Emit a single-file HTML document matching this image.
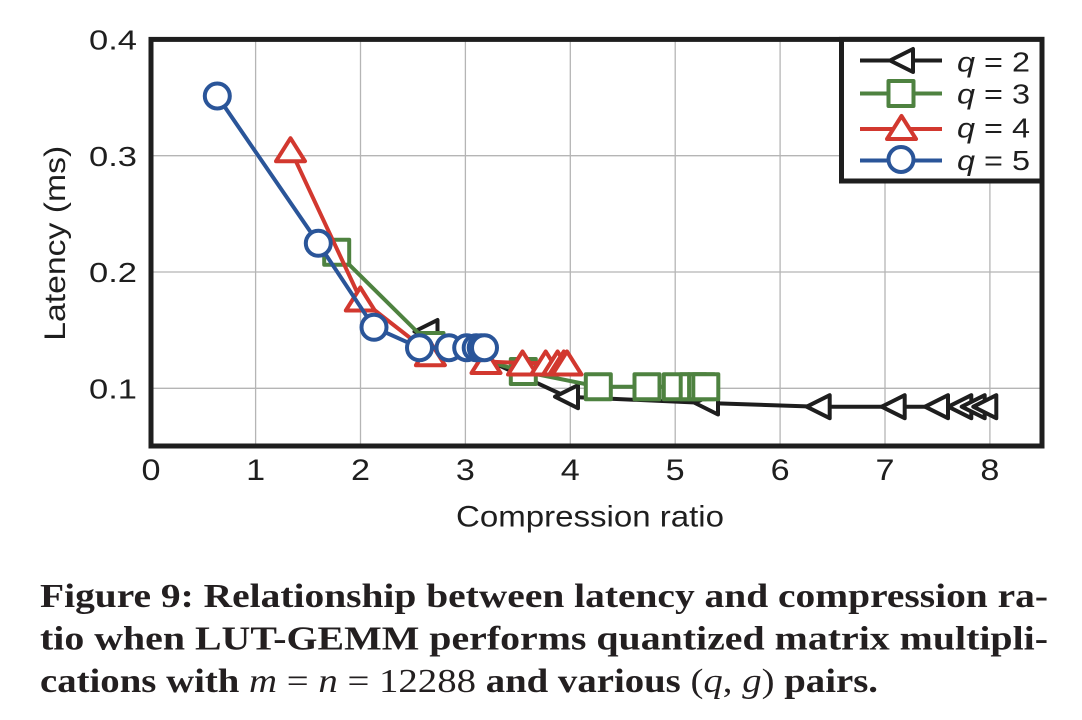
<!DOCTYPE html>
<html>
<head>
<meta charset="utf-8">
<style>
  html, body { margin: 0; padding: 0; background: #ffffff; }
  svg { display: block; }
</style>
</head>
<body>
<svg width="1082" height="720" viewBox="0 0 1082 720" xmlns="http://www.w3.org/2000/svg">
  <rect x="0" y="0" width="1082" height="720" fill="#ffffff"/>
  <defs>
    <path id="tl" d="M-11.5,0 L11.5,-11.5 L11.5,11.5 Z"/>
    <path id="tu" d="M0,-11.5 L14.5,11.5 L-14.5,11.5 Z"/>
    <rect id="sq" x="-12.5" y="-12.5" width="25" height="25"/>
    <circle id="ci" cx="0" cy="0" r="12.5"/>
  </defs>

  <!-- grid -->
  <g stroke="#b5b5b5" stroke-width="1.3">
    <line x1="255.6" y1="40" x2="255.6" y2="446"/>
    <line x1="360.5" y1="40" x2="360.5" y2="446"/>
    <line x1="465.4" y1="40" x2="465.4" y2="446"/>
    <line x1="570.3" y1="40" x2="570.3" y2="446"/>
    <line x1="675.2" y1="40" x2="675.2" y2="446"/>
    <line x1="780.1" y1="40" x2="780.1" y2="446"/>
    <line x1="885" y1="40" x2="885" y2="446"/>
    <line x1="989.9" y1="40" x2="989.9" y2="446"/>
    <line x1="151" y1="155.7" x2="1042" y2="155.7"/>
    <line x1="151" y1="272" x2="1042" y2="272"/>
    <line x1="151" y1="388.3" x2="1042" y2="388.3"/>
  </g>

  <!-- q=2 black -->
  <g stroke="#1e1e1e" stroke-width="4" fill="#ffffff" stroke-linejoin="round">
    <polyline fill="none" points="426,331.5 566.5,396.7 706.5,403 818.2,406.7 893.2,406.7 936.5,406.7 959.8,406.7 973.2,406.7 984.8,406.7"/>
    <use href="#tl" x="426" y="331.5"/>
    <use href="#tl" x="566.5" y="396.7"/>
    <use href="#tl" x="706.5" y="403"/>
    <use href="#tl" x="818.2" y="406.7"/>
    <use href="#tl" x="893.2" y="406.7"/>
    <use href="#tl" x="936.5" y="406.7"/>
    <use href="#tl" x="959.8" y="406.7"/>
    <use href="#tl" x="973.2" y="406.7"/>
    <use href="#tl" x="984.8" y="406.7"/>
  </g>

  <!-- q=3 green -->
  <g stroke="#4e8240" stroke-width="4" fill="#ffffff" stroke-linejoin="round">
    <polyline fill="none" points="336.7,252.3 431,345.5 523.3,371.5 598.3,386.7 647,386.7 676.3,386.7 693.2,386.7 701.6,386.7 705.8,386.7"/>
    <use href="#sq" x="336.7" y="252.3"/>
    <use href="#sq" x="431" y="345.5"/>
    <use href="#sq" x="523.3" y="371.5"/>
    <use href="#sq" x="598.3" y="386.7"/>
    <use href="#sq" x="647" y="386.7"/>
    <use href="#sq" x="676.3" y="386.7"/>
    <use href="#sq" x="693.2" y="386.7"/>
    <use href="#sq" x="701.6" y="386.7"/>
    <use href="#sq" x="705.8" y="386.7"/>
  </g>

  <!-- q=4 red -->
  <g stroke="#d2382f" stroke-width="4" fill="#ffffff" stroke-linejoin="round">
    <polyline fill="none" points="290.5,149.7 360.3,299 430.4,353.7 486,361.5 522.5,363 545.7,363 557.6,363 563.8,363 567,363"/>
    <use href="#tu" x="290.5" y="149.7"/>
    <use href="#tu" x="360.3" y="299"/>
    <use href="#tu" x="430.4" y="353.7"/>
    <use href="#tu" x="486" y="361.5"/>
    <use href="#tu" x="522.5" y="363"/>
    <use href="#tu" x="545.7" y="363"/>
    <use href="#tu" x="557.6" y="363"/>
    <use href="#tu" x="563.8" y="363"/>
    <use href="#tu" x="567" y="363"/>
  </g>

  <!-- q=5 blue -->
  <g stroke="#2a5599" stroke-width="4" fill="#ffffff">
    <polyline fill="none" stroke-linejoin="round" points="217.3,96 318.3,243.3 374,327.3 419.5,347.7 449,347.7 466.7,347.7 476.2,347.7 481.2,347.7 484.5,347.7"/>
    <use href="#ci" x="217.3" y="96"/>
    <use href="#ci" x="318.3" y="243.3"/>
    <use href="#ci" x="374" y="327.3"/>
    <use href="#ci" x="419.5" y="347.7"/>
    <use href="#ci" x="449" y="347.7"/>
    <use href="#ci" x="466.7" y="347.7"/>
    <use href="#ci" x="476.2" y="347.7"/>
    <use href="#ci" x="481.2" y="347.7"/>
    <use href="#ci" x="484.5" y="347.7"/>
  </g>

  <!-- frame -->
  <rect x="151" y="39.4" width="891" height="406.6" fill="none" stroke="#1e1e1e" stroke-width="5"/>

  <!-- legend -->
  <rect x="841.5" y="39.4" width="200.5" height="141.6" fill="#ffffff" stroke="#1e1e1e" stroke-width="5"/>
  <g stroke-width="4" fill="#ffffff" stroke-linejoin="round">
    <line x1="860" y1="60.5" x2="942" y2="60.5" stroke="#1e1e1e"/>
    <use href="#tl" x="901.5" y="60.5" stroke="#1e1e1e"/>
    <line x1="860" y1="93.5" x2="942" y2="93.5" stroke="#4e8240"/>
    <use href="#sq" x="901" y="93.5" stroke="#4e8240"/>
    <line x1="860" y1="129" x2="942" y2="129" stroke="#d2382f"/>
    <use href="#tu" x="901.5" y="127.5" stroke="#d2382f"/>
    <line x1="860" y1="160.5" x2="942" y2="160.5" stroke="#2a5599"/>
    <use href="#ci" x="901" y="159.5" stroke="#2a5599"/>
  </g>
  <g font-family="Liberation Sans, Arial, sans-serif" font-size="28" fill="#1e1e1e">
    <text x="957" y="71.5" textLength="73" lengthAdjust="spacingAndGlyphs"><tspan font-style="italic">q</tspan> = 2</text>
    <text x="957" y="103.5" textLength="73" lengthAdjust="spacingAndGlyphs"><tspan font-style="italic">q</tspan> = 3</text>
    <text x="957" y="137.5" textLength="73" lengthAdjust="spacingAndGlyphs"><tspan font-style="italic">q</tspan> = 4</text>
    <text x="957" y="170" textLength="73" lengthAdjust="spacingAndGlyphs"><tspan font-style="italic">q</tspan> = 5</text>
  </g>

  <!-- y tick labels -->
  <g font-family="Liberation Sans, Arial, sans-serif" font-size="28" fill="#1e1e1e">
    <text x="89" y="49.6" textLength="48" lengthAdjust="spacingAndGlyphs">0.4</text>
    <text x="89" y="165.8" textLength="48" lengthAdjust="spacingAndGlyphs">0.3</text>
    <text x="89" y="282" textLength="48" lengthAdjust="spacingAndGlyphs">0.2</text>
    <text x="89" y="398.4" textLength="48" lengthAdjust="spacingAndGlyphs">0.1</text>
  </g>
  <!-- x tick labels -->
  <g font-family="Liberation Sans, Arial, sans-serif" font-size="30" fill="#1e1e1e">
    <text x="141.5" y="480" textLength="19" lengthAdjust="spacingAndGlyphs">0</text>
    <text x="246.1" y="480" textLength="19" lengthAdjust="spacingAndGlyphs">1</text>
    <text x="351" y="480" textLength="19" lengthAdjust="spacingAndGlyphs">2</text>
    <text x="455.9" y="480" textLength="19" lengthAdjust="spacingAndGlyphs">3</text>
    <text x="560.8" y="480" textLength="19" lengthAdjust="spacingAndGlyphs">4</text>
    <text x="665.7" y="480" textLength="19" lengthAdjust="spacingAndGlyphs">5</text>
    <text x="770.6" y="480" textLength="19" lengthAdjust="spacingAndGlyphs">6</text>
    <text x="875.5" y="480" textLength="19" lengthAdjust="spacingAndGlyphs">7</text>
    <text x="980.4" y="480" textLength="19" lengthAdjust="spacingAndGlyphs">8</text>
  </g>

  <!-- axis titles -->
  <text x="456" y="526.7" font-family="Liberation Sans, Arial, sans-serif" font-size="30" fill="#1e1e1e" textLength="268" lengthAdjust="spacingAndGlyphs">Compression ratio</text>
  <text transform="translate(65,243.3) rotate(-90)" x="0" y="0" text-anchor="middle" font-family="Liberation Sans, Arial, sans-serif" font-size="30" fill="#1e1e1e" textLength="195" lengthAdjust="spacingAndGlyphs">Latency (ms)</text>

  <!-- caption -->
  <g font-family="Liberation Serif, Times New Roman, serif" font-size="34" fill="#231f20" font-weight="bold">
    <text x="40" y="607" textLength="1008" lengthAdjust="spacingAndGlyphs">Figure 9: Relationship between latency and compression ra-</text>
    <text x="40" y="649.5" textLength="1008" lengthAdjust="spacingAndGlyphs">tio when LUT-GEMM performs quantized matrix multipli-</text>
    <text x="40" y="692" textLength="838" lengthAdjust="spacingAndGlyphs">cations with <tspan font-weight="normal" font-style="italic">m</tspan><tspan font-weight="normal"> = </tspan><tspan font-weight="normal" font-style="italic">n</tspan><tspan font-weight="normal"> = 12288</tspan> and various <tspan font-weight="normal">(</tspan><tspan font-weight="normal" font-style="italic">q</tspan><tspan font-weight="normal">, </tspan><tspan font-weight="normal" font-style="italic">g</tspan><tspan font-weight="normal">)</tspan> pairs.</text>
  </g>
</svg>
</body>
</html>
